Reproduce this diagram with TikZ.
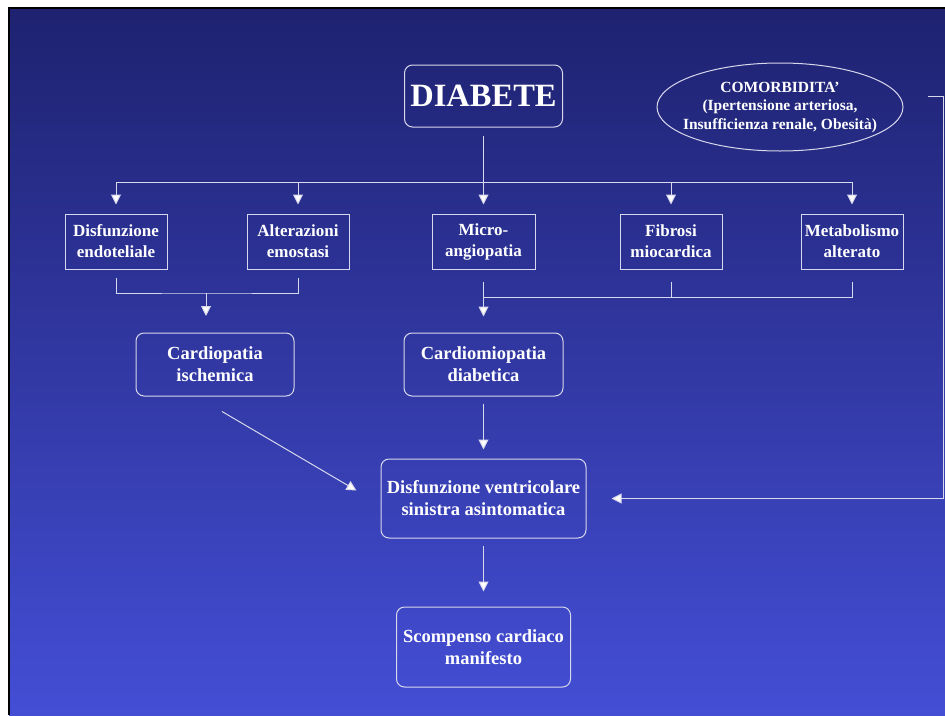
\documentclass[tikz,border=0pt]{standalone}
\usepackage{fontspec}
\setmainfont{Liberation Serif}
\usetikzlibrary{arrows.meta,shapes.geometric}
\definecolor{slidetop}{HTML}{1E2270}
\definecolor{slidebot}{HTML}{444ED5}
\definecolor{wire}{HTML}{D8D8EC}
\begin{document}
\begin{tikzpicture}[x=1pt,y=-1pt,
    box/.style={draw=wire,line width=1pt,text=white,align=center,inner sep=2pt,
      font=\bfseries\fontsize{17}{21}\selectfont,minimum width=102pt,minimum height=55pt},
    rbox/.style={box,rounded corners=8pt,font=\bfseries\fontsize{18.5}{22}\selectfont},
    link/.style={draw=wire,line width=1pt},
    arr/.style={link,-{Triangle[width=10pt,length=10pt,fill=white]}}]
    \useasboundingbox (0,0) rectangle (945,715);
    \fill[white] (0,0) rectangle (945,715);
    \shade[top color=slidetop,bottom color=slidebot] (9,8) rectangle (945,715);
    \draw[black,line width=2.5pt] (9,715) -- (9,8) -- (945,8);

    \node[rbox,font=\bfseries\fontsize{32.5}{36}\selectfont,minimum width=158pt,minimum height=62pt] (diabete) at (483.5,96) {DIABETE};
    \node[ellipse,draw=wire,line width=1pt,text=white,align=center,font=\bfseries\fontsize{15.5}{18.5}\selectfont,
      minimum width=246pt,minimum height=88pt,inner xsep=-16pt,inner ysep=0pt] (comorb) at (780,107)
      {COMORBIDITA’\\(Ipertensione arteriosa,\\Insufficienza renale, Obesità)};

    \node[box] (disf) at (116,241.5) {Disfunzione\\endoteliale};
    \node[box] (alter) at (298,241.5) {Alterazioni\\emostasi};
    \node[box,minimum width=103pt] (micro) at (483.5,241.5) {Micro-\\angiopatia};
    \node[box] (fibrosi) at (671,241.5) {Fibrosi\\miocardica};
    \node[box] (metab) at (852,241.5) {Metabolismo\\alterato};

    \node[rbox,minimum width=158pt,minimum height=63pt] (ischem) at (215,364.5) {Cardiopatia\\ischemica};
    \node[rbox,minimum width=159pt,minimum height=63pt] (cardiomio) at (483.5,364.5) {Cardiomiopatia\\diabetica};
    \node[rbox,minimum width=205pt,minimum height=79pt] (ventric) at (483.5,498.5) {Disfunzione ventricolare\\sinistra asintomatica};
    \node[rbox,minimum width=174pt,minimum height=80pt] (scomp) at (483.5,647) {Scompenso cardiaco\\manifesto};

    \coordinate (bus) at (483.5,182);
    \draw[link] ([yshift=-8pt]diabete.south) -- (bus);
    \draw[link] (disf.north |- bus) -- (metab.north |- bus);
    \foreach \n in {disf,alter,micro,fibrosi,metab}
      \draw[arr] (\n.north |- bus) -- ([yshift=9pt]\n.north);

    \coordinate (jl) at (206,293);
    \draw[link] ([yshift=-8pt]disf.south) |- (jl) -| ([yshift=-8pt]alter.south);
    \draw[arr] (jl) -- ++(0,23);

    \coordinate (jr) at (483.5,297);
    \draw[link] ([yshift=-12pt]micro.south) -- (jr);
    \draw[link] ([yshift=-12pt]fibrosi.south) |- (jr);
    \draw[link] ([yshift=-12pt]metab.south) |- (jr);
    \draw[arr] (jr) -- ([yshift=16pt]cardiomio.north);

    \draw[arr] ([yshift=-7pt]cardiomio.south) -- ([yshift=9pt]ventric.north);
    \draw[arr] ([shift={(7pt,-15pt)}]ischem.south) -- ([shift={(-24pt,8pt)}]ventric.west);
    \draw[arr] ([yshift=-7pt]ventric.south) -- ([yshift=15pt]scomp.north);

    \coordinate (side) at (943,96);
    \draw[arr] ([shift={(24pt,11pt)}]comorb.east) -- (side) |- ([xshift=25pt]ventric.east);
\end{tikzpicture}
\end{document}
